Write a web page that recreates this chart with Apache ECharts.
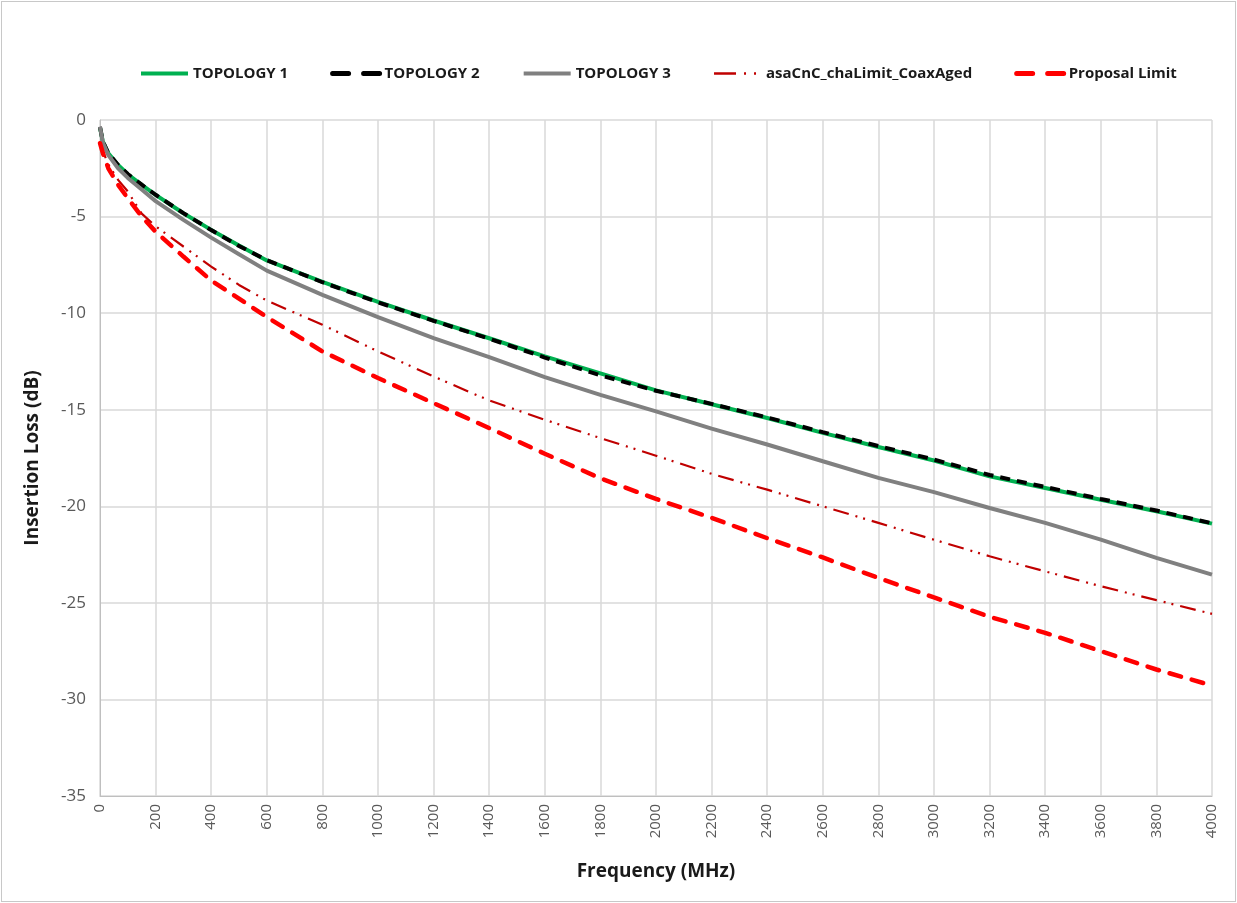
<!DOCTYPE html>
<html>
<head>
<meta charset="utf-8">
<script src="https://cdn.jsdelivr.net/npm/echarts@6/dist/echarts.min.js"></script>
<style>
  html, body { margin: 0; padding: 0; background: #fff; }
  #frame { position: absolute; left: 1px; top: 1px; width: 1233px; height: 899px; border: 1px solid #c8c8c8; }
  #chart { position: absolute; left: 0; top: 0; width: 1237px; height: 903px; }
</style>
</head>
<body>
<div id="frame"></div>
<div id="chart"></div>
<script>
// frequency points (MHz)
const freq = [0, 10, 30, 65, 100, 150, 200, 300, 400, 500, 600, 800, 1000, 1200, 1400, 1600, 1800, 2000, 2200, 2400, 2600, 2800, 3000, 3200, 3400, 3600, 3800, 4000]

// insertion loss (dB)
const topology1 = [-0.4, -1.1, -1.72, -2.33, -2.81, -3.36, -3.88, -4.83, -5.69, -6.5, -7.27, -8.38, -9.42, -10.38, -11.3, -12.24, -13.12, -14.0, -14.72, -15.43, -16.2, -16.93, -17.63, -18.45, -19.05, -19.66, -20.26, -20.9]
const topology2 = [-0.35, -1.1, -1.72, -2.33, -2.8, -3.35, -3.87, -4.82, -5.7, -6.52, -7.26, -8.4, -9.44, -10.4, -11.32, -12.3, -13.22, -14.02, -14.7, -15.4, -16.16, -16.88, -17.58, -18.38, -19.0, -19.62, -20.22, -20.88]
const topology3 = [-0.35, -1.15, -1.82, -2.5, -3.0, -3.6, -4.2, -5.17, -6.09, -6.95, -7.8, -9.05, -10.21, -11.29, -12.28, -13.31, -14.23, -15.09, -15.98, -16.8, -17.67, -18.53, -19.27, -20.09, -20.86, -21.73, -22.67, -23.54]
const coaxAgedLimit = [-1.2, -1.6, -2.3, -3.1, -3.7, -4.85, -5.5, -6.55, -7.59, -8.54, -9.35, -10.6, -11.98, -13.28, -14.52, -15.52, -16.47, -17.38, -18.32, -19.14, -20.0, -20.86, -21.73, -22.59, -23.37, -24.14, -24.86, -25.57]
const proposalLimit = [-1.2, -1.7, -2.5, -3.35, -4.05, -5.0, -5.78, -7.07, -8.31, -9.25, -10.2, -11.98, -13.36, -14.66, -15.95, -17.28, -18.55, -19.62, -20.6, -21.65, -22.65, -23.71, -24.72, -25.72, -26.55, -27.5, -28.45, -29.28]

const xTicks = { min: 0, max: 4000, interval: 200 }
const yTicks = { min: -35, max: 0, interval: 5 }

const pairs = (ys) => freq.map((f, i) => [f, ys[i]])

const chart = echarts.init(document.getElementById('chart'))

const gridColor = '#d9d9d9'
const labelColor = '#595959'
const fontFamily = '"Open Sans", "Noto Sans", sans-serif'

const styles = {
  'TOPOLOGY 1': { color: '#00b050', width: 4 },
  'TOPOLOGY 2': { color: '#000000', width: 4, type: [10, 7] },
  'TOPOLOGY 3': { color: '#808080', width: 4 },
  'asaCnC_chaLimit_CoaxAged': { color: '#c00000', width: 2.2, type: [16, 7, 2, 6, 2, 7] },
  'Proposal Limit': { color: '#ff0000', width: 4.5, type: [12, 11], cap: 'round' }
}
// legend swatches are drawn a bit heavier, like the original
const legendStyles = {
  'TOPOLOGY 1': { color: '#00b050', width: 4 },
  'TOPOLOGY 2': { color: '#000000', width: 5, type: [16, 15], cap: 'round' },
  'TOPOLOGY 3': { color: '#808080', width: 4 },
  'asaCnC_chaLimit_CoaxAged': { color: '#c00000', width: 2.5, type: [22, 8, 2, 8, 2, 8] },
  'Proposal Limit': { color: '#ff0000', width: 5, type: [16, 15], cap: 'round' }
}

const mkSeries = (name, ys) => ({
  name,
  type: 'line',
  data: pairs(ys),
  symbol: 'none',
  smooth: false,
  lineStyle: styles[name],
  itemStyle: { color: styles[name].color }
})

chart.setOption({
  animation: false,
  grid: { left: 100, right: 25, top: 120, bottom: 107 },
  legend: {
    top: 61,
    left: 134,
    itemWidth: 47,
    itemHeight: 14,
    itemGap: 42,
    itemStyle: { opacity: 0 },
    textStyle: { color: '#1a1a1a', fontWeight: 'bold', fontSize: 15, fontFamily },
    data: Object.keys(legendStyles).map(name => ({ name, lineStyle: legendStyles[name] }))
  },
  xAxis: {
    type: 'value',
    min: xTicks.min,
    max: xTicks.max,
    interval: xTicks.interval,
    name: 'Frequency (MHz)',
    nameLocation: 'middle',
    nameGap: 66,
    nameTextStyle: { color: '#1a1a1a', fontWeight: 'bold', fontSize: 19, fontFamily },
    axisLine: { onZero: false, lineStyle: { color: '#bfbfbf', width: 1 } },
    axisTick: { show: false },
    axisLabel: { rotate: 90, color: labelColor, fontSize: 15, fontFamily, margin: 8, formatter: v => String(v) },
    splitLine: { show: true, lineStyle: { color: gridColor, width: 1.5 } }
  },
  yAxis: {
    type: 'value',
    min: yTicks.min,
    max: yTicks.max,
    interval: yTicks.interval,
    name: 'Insertion Loss (dB)',
    nameLocation: 'middle',
    nameGap: 58,
    nameTextStyle: { color: '#1a1a1a', fontWeight: 'bold', fontSize: 19, fontFamily },
    axisLine: { show: true, onZero: false, lineStyle: { color: '#bfbfbf', width: 1 } },
    axisTick: { show: false },
    axisLabel: { color: labelColor, fontSize: 17, fontFamily, margin: 14 },
    splitLine: { show: true, lineStyle: { color: gridColor, width: 1.5 } }
  },
  series: [
    mkSeries('TOPOLOGY 1', topology1),
    mkSeries('TOPOLOGY 2', topology2),
    mkSeries('TOPOLOGY 3', topology3),
    mkSeries('asaCnC_chaLimit_CoaxAged', coaxAgedLimit),
    mkSeries('Proposal Limit', proposalLimit)
  ]
})
</script>
</body>
</html>
